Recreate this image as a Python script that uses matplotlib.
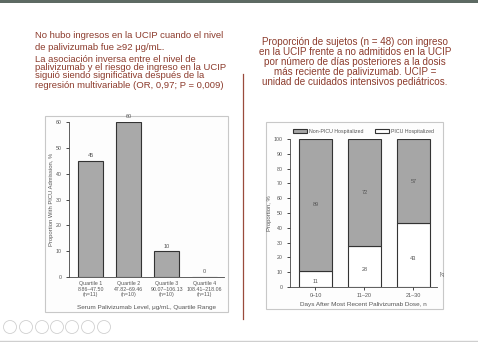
import matplotlib.pyplot as plt
from matplotlib.patches import Rectangle, Ellipse
from matplotlib.lines import Line2D

plt.rcParams['font.family'] = ['Liberation Sans', 'DejaVu Sans']

# datos
quartiles = ['Quartile 1\n8.86–47.50\n(n=11)', 'Quartile 2\n47.82–69.46\n(n=10)',
             'Quartile 3\n90.07–106.13\n(n=10)', 'Quartile 4\n108.41–218.06\n(n=11)']
picu_pct = [45, 60, 10, 0]
days = ['0–10', '11–20', '21–30']
picu_hosp = [11, 28, 43]
non_picu_hosp = [89, 72, 57]

left_text = ["No hubo ingresos en la UCIP cuando el nivel",
             "de palivizumab fue ≥92 μg/mL.",
             "La asociación inversa entre el nivel de",
             "palivizumab y el riesgo de ingreso en la UCIP",
             "siguió siendo significativa después de la",
             "regresión multivariable (OR, 0,97; P = 0,009)"]
right_text = ["Proporción de sujetos (n = 48) con ingreso",
              "en la UCIP frente a no admitidos en la UCIP",
              "por número de días posteriores a la dosis",
              "más reciente de palivizumab. UCIP =",
              "unidad de cuidados intensivos pediátricos."]

W, H = 478, 342
fig = plt.figure(figsize=(W / 100, H / 100), dpi=100)
fig.patch.set_facecolor('white')

def fx(x):
    return x / W

def fy(y):
    return 1 - y / H

red = '#8c3b2c'
txt = '#555555'

# barra superior
fig.add_artist(Rectangle((0, fy(3)), 1, 3 / H, transform=fig.transFigure,
                         color='#5d6a63', lw=0))
# textos
ys = [36, 47, 59, 68, 76, 85]
for s, y in zip(left_text, ys):
    fig.text(fx(35), fy(y), s, color=red, fontsize=6.8, va='center', ha='left')
for i, s in enumerate(right_text):
    fig.text(fx(355), fy(42 + 10 * i), s, color=red, fontsize=7.1, va='center', ha='center')

# linea vertical
fig.add_artist(Line2D([fx(243), fx(243)], [fy(74), fy(319)], transform=fig.transFigure,
                      color='#9a4a3c', lw=0.9))

# marcos de las figuras (detras de los ejes)
r1 = Rectangle((fx(45), fy(312)), 183 / W, 196 / H, transform=fig.transFigure,
               fill=True, fc='#fdfdfd', ec='#c8c8c8', lw=0.8, zorder=-5)
r2 = Rectangle((fx(266), fy(309)), 177 / W, 187 / H, transform=fig.transFigure,
               fill=True, fc='#fdfdfd', ec='#c8c8c8', lw=0.8, zorder=-5)
fig.add_artist(r1)
fig.add_artist(r2)

# grafico izquierdo
ax1 = fig.add_axes([fx(69), fy(277), 155 / W, 155 / H])
ax1.set_facecolor('none')
x1 = range(len(quartiles))
ax1.bar(x1, picu_pct, width=0.66, color='#a9a9a9', edgecolor='#333333', lw=0.8)
for xi, v in zip(x1, picu_pct):
    ax1.text(xi, v + 1, str(v), ha='center', va='bottom', fontsize=4, color=txt)
ax1.set_xlim(-0.57, 3.51)
ax1.set_ylim(0, 60)
ax1.set_yticks(range(0, 61, 10))
ax1.set_xticks(list(x1))
ax1.set_xticklabels(quartiles, fontsize=3.8, color=txt, linespacing=1.1)
ax1.tick_params(axis='y', labelsize=3.8, labelcolor=txt, length=2, width=0.5)
ax1.tick_params(axis='x', length=0, pad=3)
ax1.set_ylabel('Proportion With PICU Admission, %', fontsize=4.2, color=txt, labelpad=1)
ax1.set_xlabel('Serum Palivizumab Level, μg/mL, Quartile Range', fontsize=4.6, color=txt, labelpad=6)
for sp in ['top', 'right']:
    ax1.spines[sp].set_visible(False)
for sp in ['left', 'bottom']:
    ax1.spines[sp].set_color('#444444')
    ax1.spines[sp].set_linewidth(0.6)

# grafico derecho
ax2 = fig.add_axes([fx(290), fy(287), 147 / W, 148 / H])
ax2.set_facecolor('none')
x2 = range(len(days))
ax2.bar(x2, picu_hosp, width=0.67, color='white', edgecolor='#333333', lw=0.8,
        label='PICU Hospitalized')
ax2.bar(x2, non_picu_hosp, bottom=picu_hosp, width=0.67, color='#a6a6a6',
        edgecolor='#333333', lw=0.8, label='Non-PICU Hospitalized')
for xi, a, b in zip(x2, picu_hosp, non_picu_hosp):
    ax2.text(xi, a / 2 - 2, str(a), ha='center', va='center', fontsize=4, color=txt)
    ax2.text(xi, a + b / 2, str(b), ha='center', va='center', fontsize=4, color=txt)
ax2.set_xlim(-0.52, 2.48)
ax2.set_ylim(0, 100)
ax2.set_yticks(range(0, 101, 10))
ax2.set_xticks(list(x2))
ax2.set_xticklabels(days, fontsize=4, color=txt)
ax2.tick_params(axis='y', labelsize=3.8, labelcolor=txt, length=2, width=0.5)
ax2.tick_params(axis='x', length=2, width=0.5, pad=2)
ax2.set_ylabel('Proportion, %', fontsize=4.2, color=txt, labelpad=1)
ax2.set_xlabel('Days After Most Recent Palivizumab Dose, n', fontsize=4.6, color=txt, labelpad=3)
for sp in ['top', 'right']:
    ax2.spines[sp].set_visible(False)
for sp in ['left', 'bottom']:
    ax2.spines[sp].set_color('#444444')
    ax2.spines[sp].set_linewidth(0.6)
h, l = ax2.get_legend_handles_labels()
ax2.legend(h[::-1], l[::-1], ncol=2, loc='lower center', bbox_to_anchor=(0.5, 1.0),
           frameon=False, fontsize=3.8, handlelength=2.8, handleheight=1.0,
           handletextpad=0.4, columnspacing=2.0, borderaxespad=0.6, labelcolor=txt)
fig.text(fx(443), fy(273), '27', rotation=90, fontsize=4, color=txt, ha='center', va='center')

# iconos de la barra inferior
for cx in [10, 26, 42, 57, 72, 88, 104]:
    fig.add_artist(Ellipse((fx(cx), fy(327)), 13 / W, 13 / H, transform=fig.transFigure,
                           fill=False, ec='#d0d0d0', lw=0.6))
fig.add_artist(Line2D([0, 1], [fy(340.5), fy(340.5)], transform=fig.transFigure,
                      color='#cfcfcf', lw=1))

fig.savefig('out.png', dpi=100)
